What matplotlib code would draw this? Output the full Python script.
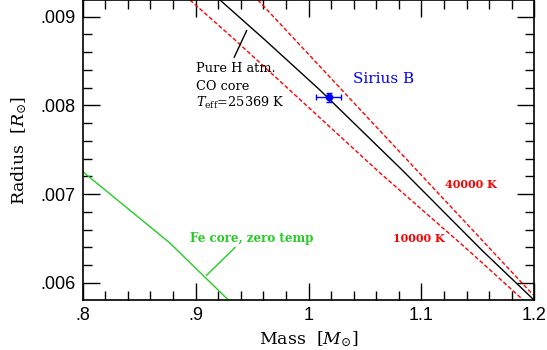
import matplotlib
matplotlib.use("Agg")
import matplotlib.pyplot as plt
from matplotlib.ticker import MultipleLocator

# ---- data ----
co_mass = [0.9216, 0.9615, 1.0101, 1.083, 1.1533, 1.199]
co_radius = [0.009188, 0.008737, 0.008173, 0.00727, 0.00637, 0.005814]

t10k_mass = [0.8950, 0.9350, 1.0633, 1.1412, 1.1902]
t10k_radius = [0.009188, 0.008737, 0.007238, 0.006370, 0.005805]

t40k_mass = [0.9552, 1.0958, 1.1990]
t40k_radius = [0.009188, 0.007270, 0.005862]

fe_mass = [0.8, 0.877, 0.929]
fe_radius = [0.007253, 0.006450, 0.005805]

sirius_mass = 1.018
sirius_radius = 0.00809
sirius_mass_err = 0.011
sirius_radius_err = 0.00005

xticks = [0.8, 0.9, 1.0, 1.1, 1.2]
xtick_labels = [".8", ".9", "1", "1.1", "1.2"]
yticks = [0.006, 0.007, 0.008, 0.009]
ytick_labels = [".006", ".007", ".008", ".009"]

plt.rcParams['mathtext.fontset'] = 'dejavuserif'

fig = plt.figure(figsize=(5.47, 3.5), dpi=100)
ax = fig.add_axes([82.7 / 547, 50 / 350, (534.3 - 82.7) / 547, 300 / 350])

red = '#ff0000'
green = '#22cc22'
blue = '#0000ff'

ax.plot(co_mass, co_radius, color='black', lw=1.0)
ax.plot(t10k_mass, t10k_radius, color=red, lw=1.0, dashes=(3, 1.6))
ax.plot(t40k_mass, t40k_radius, color=red, lw=1.0, dashes=(3, 1.6))
ax.plot(fe_mass, fe_radius, color=green, lw=1.0)

ax.errorbar([sirius_mass], [sirius_radius], xerr=[sirius_mass_err], yerr=[sirius_radius_err],
            fmt='o', color=blue, ms=4.5, capsize=2.5, elinewidth=1.0, capthick=1.0)

ax.set_xlim(0.8, 1.2)
ax.set_ylim(0.005805, 0.009188)

ax.set_xticks(xticks)
ax.set_xticklabels(xtick_labels)
ax.set_yticks(yticks)
ax.set_yticklabels(ytick_labels)
ax.xaxis.set_minor_locator(MultipleLocator(0.02))
ax.yaxis.set_minor_locator(MultipleLocator(0.0002))
ax.tick_params(which='both', direction='in', top=True, right=True, width=1.0, color='black')
ax.tick_params(which='major', length=12.2, labelsize=13, pad=5)
ax.tick_params(which='minor', length=6.5)
for lab in ax.get_xticklabels() + ax.get_yticklabels():
    lab.set_fontfamily('Liberation Sans')
for sp in ax.spines.values():
    sp.set_linewidth(1.2)

ax.set_xlabel(r'Mass  [$M_{\odot}$]', fontsize=12.5, family='DejaVu Serif', labelpad=4)
ax.set_ylabel(r'Radius  [$R_{\odot}$]', fontsize=12.5, family='DejaVu Serif', labelpad=8)

tf = dict(family='DejaVu Serif', fontsize=9.3, va='center', ha='left')
ax.text(0.9003, 0.008412, 'Pure H atm.', color='black', **tf)
ax.text(0.9003, 0.008212, 'CO core', color='black', **tf)
ax.text(0.9003, 0.008025, r'$T_{\rm eff}$=25369 K', color='black', **tf)
ax.plot([0.9342, 0.9452], [0.008542, 0.008842], color='black', lw=1.0)

ax.text(1.0396, 0.008294, 'Sirius B', color=blue, family='DejaVu Serif', fontsize=11,
        va='center', ha='left')
cf = dict(family='DejaVu Serif', fontsize=8, fontweight='bold', va='center', ha='left')
ax.text(1.1208, 0.007103, '40000 K', color=red, **cf)
ax.text(1.0750, 0.006502, '10000 K', color=red, **cf)
ax.text(0.8950, 0.006494, 'Fe core, zero temp', color=green, family='DejaVu Serif',
        fontsize=8.6, fontweight='bold', va='center', ha='left')
ax.plot([0.9098, 0.9349], [0.006085, 0.006397], color=green, lw=1.0)

fig.savefig('out.png', dpi=100)
